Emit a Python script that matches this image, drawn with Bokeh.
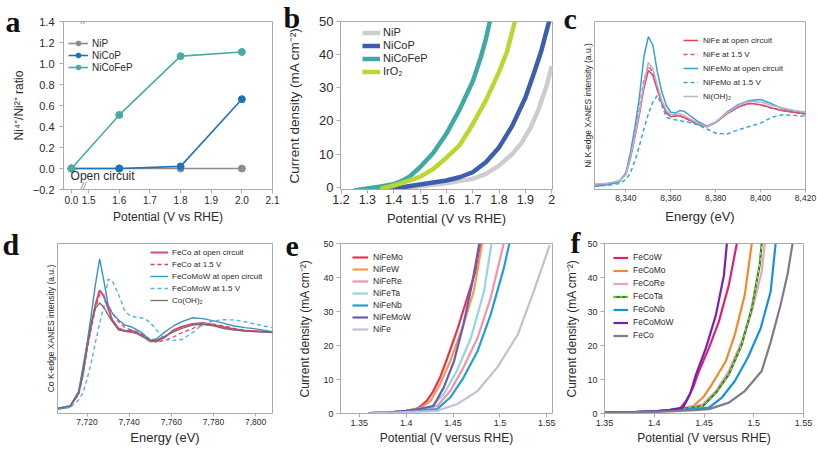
import math
from bokeh.plotting import figure
from bokeh.layouts import row, column
from bokeh.models import Label, Legend, LegendItem, FixedTicker, Range1d, NumeralTickFormatter, Title
from bokeh.embed import file_html
from bokeh.resources import INLINE

FONT = "Liberation Sans"
SERIF = "Liberation Serif"
FRAME = "#ababab"
TXT = "#2b2b2b"

# ---------------- (a) Ni4+/Ni2+ ratio ----------------
a_potential_ticks = [0.0, 1.5, 1.6, 1.7, 1.8, 1.9, 2.0, 2.1]
a_potential_tick_labels = ["0.0", "1.5", "1.6", "1.7", "1.8", "1.9", "2.0", "2.1"]
a_ratio_ticks = [-0.2, 0.0, 0.2, 0.4, 0.6, 0.8, 1.0, 1.2, 1.4]
a_ratio_tick_labels = ["\u22120.2", "0.0", "0.2", "0.4", "0.6", "0.8", "1.0", "1.2", "1.4"]
a_potential = [0.0, 1.6, 1.8, 2.0]
a_NiP = [0.0, 0.0, 0.0, 0.0]
a_NiCoP = [0.0, 0.0, 0.02, 0.66]
a_NiCoFeP = [0.0, 0.51, 1.07, 1.11]

# ---------------- (b) LSV ----------------
b_NiP_V = [1.42, 1.50, 1.60, 1.70, 1.75, 1.80, 1.85, 1.885, 1.92, 1.95, 1.98, 2.00]
b_NiP_J = [-0.5, 0.3, 1.2, 2.5, 4.0, 6.5, 10.0, 13.3, 18.0, 23.5, 30.5, 36.5]
b_NiCoP_V = [1.38, 1.45, 1.50, 1.55, 1.60, 1.65, 1.70, 1.75, 1.80, 1.85, 1.90, 1.935, 1.96, 1.99]
b_NiCoP_J = [-1.0, 0.2, 0.8, 1.4, 2.0, 3.0, 4.5, 7.5, 12.0, 18.5, 27.0, 35.0, 41.0, 50.0]
b_NiCoFeP_V = [1.25, 1.30, 1.35, 1.40, 1.43, 1.46, 1.50, 1.55, 1.60, 1.65, 1.70, 1.73, 1.75, 1.765]
b_NiCoFeP_J = [-1.0, -0.4, 0.2, 0.9, 1.8, 3.2, 6.0, 10.3, 16.1, 23.4, 31.9, 39.0, 44.7, 50.0]
b_IrO2_V = [1.35, 1.40, 1.44, 1.50, 1.55, 1.60, 1.65, 1.70, 1.75, 1.80, 1.83, 1.86]
b_IrO2_J = [-0.5, 0.5, 1.5, 3.1, 5.5, 8.9, 12.6, 19.0, 26.2, 34.8, 40.8, 50.0]

# ---------------- (c) Ni K-edge XANES ----------------
c_energy = [8326, 8332, 8337, 8340, 8342, 8344, 8346, 8348, 8350, 8352, 8354, 8356, 8358, 8360, 8362,
            8364, 8366, 8368, 8372, 8376, 8380, 8385, 8390, 8395, 8400, 8405, 8410, 8415, 8420]
c_NiFe_oc = [.029, .035, .049, .091, .184, .311, .447, .602, .709, .680, .592, .515, .456, .433, .437,
             .437, .427, .414, .388, .373, .398, .450, .491, .513, .505, .485, .470, .460, .450]
c_NiFe_15 = [.029, .035, .050, .095, .195, .330, .480, .650, .735, .700, .600, .520, .462, .435, .438,
             .440, .430, .415, .388, .375, .400, .450, .493, .512, .503, .484, .468, .458, .450]
c_NiFeMo_oc = [.020, .028, .045, .100, .220, .370, .550, .790, .910, .860, .700, .580, .500, .460, .455,
               .470, .465, .445, .405, .378, .400, .460, .505, .530, .535, .510, .480, .468, .460]
c_NiFeMo_15 = [.020, .025, .035, .060, .100, .170, .260, .360, .450, .520, .560, .500, .430, .420, .415,
               .410, .405, .400, .385, .360, .335, .330, .355, .375, .395, .430, .445, .440, .435]
c_NiOH2 = [.031, .037, .050, .090, .190, .320, .460, .630, .757, .720, .620, .530, .470, .445, .447,
           .452, .440, .425, .395, .375, .400, .455, .500, .525, .520, .500, .485, .470, .460]

# ---------------- (d) Co K-edge XANES ----------------
d_energy = [7706, 7712, 7716, 7718, 7720, 7722, 7724, 7726, 7728, 7730, 7732, 7735, 7738, 7741, 7744,
            7747, 7750, 7753, 7757, 7761, 7765, 7770, 7775, 7780, 7785, 7790, 7795, 7800, 7808]
d_FeCo_oc = [.029, .042, .120, .230, .390, .520, .640, .725, .690, .620, .550, .500, .485, .480, .470,
             .450, .425, .425, .450, .490, .510, .527, .532, .520, .508, .495, .487, .484, .478]
d_FeCo_15 = [.029, .046, .110, .220, .370, .500, .620, .700, .690, .640, .590, .540, .505, .490, .480,
             .460, .435, .420, .430, .450, .475, .500, .520, .525, .515, .500, .490, .485, .478]
d_FeCoMoW_oc = [.025, .040, .130, .270, .410, .580, .760, .910, .780, .640, .590, .550, .520, .510, .490,
                .465, .430, .440, .480, .515, .540, .563, .558, .545, .530, .515, .505, .498, .481]
d_FeCoMoW_15 = [.025, .035, .080, .120, .200, .300, .420, .530, .630, .790, .780, .700, .600, .570, .567,
                .560, .535, .490, .435, .430, .435, .475, .525, .545, .552, .550, .540, .525, .505]
d_CoOH2 = [.030, .045, .120, .230, .400, .530, .620, .650, .625, .580, .540, .490, .485, .490, .475,
           .450, .430, .430, .455, .480, .500, .520, .525, .515, .500, .490, .485, .482, .478]

# ---------------- (e) NiFe-based LSV ----------------
e_NiFeMo_V = [1.36, 1.38, 1.40, 1.41, 1.415, 1.422, 1.429, 1.436, 1.444, 1.454, 1.465, 1.476, 1.480]
e_NiFeMo_J = [0.1, 0.3, 0.8, 1.3, 2.0, 3.7, 6.6, 10.5, 16.4, 24.2, 33.9, 43.7, 50.0]
e_NiFeW_V = [1.36, 1.38, 1.40, 1.415, 1.426, 1.436, 1.447, 1.461, 1.472, 1.481]
e_NiFeW_J = [0.1, 0.3, 0.8, 1.6, 3.7, 8.6, 15.4, 26.1, 35.9, 50.0]
e_NiFeRe_V = [1.36, 1.38, 1.40, 1.42, 1.433, 1.447, 1.461, 1.476, 1.490, 1.504]
e_NiFeRe_J = [0.1, 0.3, 0.7, 1.3, 2.2, 6.6, 13.5, 22.2, 33.9, 50.0]
e_NiFeTa_V = [1.36, 1.38, 1.40, 1.415, 1.426, 1.440, 1.454, 1.469, 1.483, 1.491]
e_NiFeTa_J = [0.1, 0.3, 0.7, 1.2, 1.75, 5.65, 12.5, 22.2, 35.9, 50.0]
e_NiFeNb_V = [1.36, 1.38, 1.40, 1.42, 1.433, 1.447, 1.461, 1.476, 1.490, 1.504, 1.510]
e_NiFeNb_J = [0.1, 0.3, 0.6, 1.0, 1.3, 4.7, 10.5, 18.3, 29.0, 42.6, 50.0]
e_NiFeMoW_V = [1.36, 1.38, 1.40, 1.415, 1.429, 1.440, 1.451, 1.461, 1.470, 1.478]
e_NiFeMoW_J = [0.1, 0.3, 0.8, 1.4, 2.2, 7.6, 15.4, 26.1, 37.8, 50.0]
e_NiFe_V = [1.36, 1.38, 1.40, 1.42, 1.433, 1.454, 1.476, 1.497, 1.519, 1.536, 1.553]
e_NiFe_J = [0.05, 0.2, 0.4, 0.6, 0.8, 2.7, 6.6, 13.5, 23.2, 35.9, 49.5]

# ---------------- (f) FeCo-based LSV ----------------
f_FeCoW_V = [1.35, 1.38, 1.40, 1.415, 1.426, 1.432, 1.439, 1.445, 1.455, 1.465, 1.475, 1.483]
f_FeCoW_J = [0.3, 0.4, 0.6, 1.0, 1.5, 3.7, 7.6, 12.5, 19.3, 27.1, 37.8, 50.0]
f_FeCoMo_V = [1.35, 1.38, 1.40, 1.42, 1.439, 1.449, 1.458, 1.472, 1.481, 1.491, 1.498]
f_FeCoMo_J = [0.3, 0.4, 0.6, 1.0, 2.2, 4.7, 8.6, 15.4, 23.2, 34.9, 50.0]
f_FeCoRe_V = [1.35, 1.38, 1.40, 1.42, 1.449, 1.462, 1.475, 1.488, 1.498, 1.508, 1.511]
f_FeCoRe_J = [0.3, 0.4, 0.6, 1.0, 2.7, 6.6, 12.5, 21.2, 30.0, 41.7, 50.0]
f_FeCoTa_V = [1.35, 1.38, 1.40, 1.42, 1.449, 1.462, 1.475, 1.488, 1.498, 1.506, 1.508]
f_FeCoTa_J = [0.3, 0.4, 0.6, 1.0, 2.2, 6.1, 11.5, 20.3, 31.0, 43.7, 50.0]
f_FeCoNb_V = [1.35, 1.38, 1.40, 1.42, 1.44, 1.455, 1.468, 1.481, 1.494, 1.507, 1.517, 1.522]
f_FeCoNb_J = [0.3, 0.4, 0.6, 0.9, 1.3, 1.75, 4.7, 9.55, 16.4, 25.1, 35.9, 50.0]
f_FeCoMoW_V = [1.35, 1.38, 1.40, 1.415, 1.429, 1.436, 1.442, 1.452, 1.462, 1.470, 1.473]
f_FeCoMoW_J = [0.3, 0.4, 0.6, 1.0, 1.75, 5.65, 11.5, 19.3, 29.0, 40.6, 50.0]
f_FeCo_V = [1.35, 1.38, 1.40, 1.42, 1.44, 1.455, 1.475, 1.491, 1.508, 1.517, 1.527, 1.534, 1.539]
f_FeCo_J = [0.3, 0.4, 0.5, 0.7, 1.0, 1.3, 3.2, 6.6, 12.5, 21.0, 32.0, 41.0, 50.0]

LSV_TICKS = [1.35, 1.40, 1.45, 1.50, 1.55]
J_TICKS = [0, 10, 20, 30, 40, 50]


# ---------------- helpers ----------------
def make_panel(w, h, bl, br, bt, bb, xr, yr):
    p = figure(width=w, height=h, x_range=Range1d(*xr), y_range=Range1d(*yr),
               min_border_left=bl, min_border_right=br, min_border_top=bt, min_border_bottom=bb,
               output_backend="svg", toolbar_location=None, tools="")
    p.grid.visible = False
    p.outline_line_color = FRAME
    p.background_fill_color = "white"
    p.border_fill_color = "white"
    for ax in p.axis:
        ax.axis_line_color = FRAME
        ax.major_tick_line_color = FRAME
        ax.minor_tick_line_color = None
        ax.major_tick_in = 0
        ax.major_tick_out = 4
        ax.major_label_text_font = FONT
        ax.major_label_text_color = TXT
        ax.axis_label_text_font = FONT
        ax.axis_label_text_font_style = "normal"
        ax.axis_label_text_color = TXT
    return p, (bl, bt, h - bt - bb)


def set_axis(ax, title, tick_px, title_px, label_standoff, title_standoff):
    ax.axis_label = title
    ax.major_label_text_font_size = f"{tick_px}px"
    ax.axis_label_text_font_size = f"{title_px}px"
    ax.major_label_standoff = label_standoff
    ax.axis_label_standoff = title_standoff


def add_letter(p, g, txt, cx, base_y, fs=30, mode="middle"):
    """Panel letter as the figure title, pulled down beside the frame."""
    bl, bt, fh = g
    asc, desc = 0.891 * fs, 0.216 * fs
    th = asc + desc
    if mode == "middle":
        mid = base_y - (asc - desc) / 2
        h = 2 * (bt - mid)
        s = int(round(h - 2 - th))
    else:  # baseline-anchored at frame top minus standoff/2
        s = int(round(2 * (bt - base_y)))
        if 2 + th + s > bt:
            s = int(math.floor(bt - 2 - th))
    p.title = Title(text=txt, align="left", offset=cx - bl, standoff=s, vertical_align=mode,
                    text_font=SERIF, text_font_style="bold", text_font_size=f"{fs}px",
                    text_color="#111111")
    p.title_location = "above"


def add_legend(p, g, items, size_px, x_off, first_center, pitch, glyph_w, standoff, nudge=0):
    bl, bt, fh = g
    n = len(items)
    height = n * pitch
    top = first_center - pitch / 2 + nudge
    vy = fh - top - height
    leg = Legend(items=items, location=(x_off, vy), padding=0, margin=0, spacing=0,
                 glyph_width=glyph_w, glyph_height=pitch, label_height=pitch,
                 label_standoff=standoff, label_text_font=FONT,
                 label_text_font_size=f"{size_px}px", label_text_color=TXT,
                 border_line_color=None, background_fill_alpha=0)
    p.add_layout(leg)


TOP_H, BOT_H = 228, 225

# ================= panel a =================
OC_POS = 1.444  # where "open circuit" sits on the broken potential axis


def a_pos(v):
    return OC_POS if v == 0.0 else v


pa, ga = make_panel(282, TOP_H, 63, 10, 17, 38, (1.418, 2.1), (-0.2, 1.4))
pa.xaxis.ticker = FixedTicker(ticks=[a_pos(v) for v in a_potential_ticks])
pa.xaxis.major_label_overrides = {a_pos(v): s for v, s in zip(a_potential_ticks, a_potential_tick_labels)}
pa.yaxis.ticker = FixedTicker(ticks=a_ratio_ticks)
pa.yaxis.major_label_overrides = {v: s for v, s in zip(a_ratio_ticks, a_ratio_tick_labels)}
set_axis(pa.xaxis[0], "Potential (V vs RHE)", 10, 12, 2, 3)
set_axis(pa.yaxis[0], "Ni\u2074\u207a/Ni\u00b2\u207a ratio", 11, 12, 5, 4)

a_x = [a_pos(v) for v in a_potential]
a_items = []
for name, ys, col in [("NiP", a_NiP, "#8d8d8d"), ("NiCoP", a_NiCoP, "#1f74b6"),
                      ("NiCoFeP", a_NiCoFeP, "#4aaaa4")]:
    rl = pa.line(a_x, ys, line_color=col, line_width=1.6)
    rs = pa.scatter(a_x, ys, marker="circle", size=7, fill_color=col, line_color=col)
    a_items.append(LegendItem(label=name, renderers=[rl, rs]))
add_legend(pa, ga, a_items, 10, 5, 15, 12, 20, 4, nudge=12)
pa.add_layout(Label(x=OC_POS - 0.003, y=-0.07, text="Open circuit", text_font=FONT,
                    text_font_size="12px", text_color=TXT, text_align="left", text_baseline="middle"))
for yy in (4, ga[2] - 4):
    pa.add_layout(Label(x=1.483, y=yy, y_units="screen", text="//", text_font=FONT,
                        text_font_size="9px", text_color="#777777", text_align="center",
                        text_baseline="middle", text_font_style="italic"))
add_letter(pa, ga, "a", 5, 27)

# ================= panel b =================
pb, gb = make_panel(280, TOP_H, 58, 10, 21, 38, (1.198, 2.003), (-0.7, 50))
pb.xaxis.ticker = FixedTicker(ticks=[1.2, 1.3, 1.4, 1.5, 1.6, 1.7, 1.8, 1.9, 2.0])
pb.yaxis.ticker = FixedTicker(ticks=J_TICKS)
set_axis(pb.xaxis[0], "Potential (V vs RHE)", 12.5, 13, 1, 4)
set_axis(pb.yaxis[0], "Current density (mA cm\u207b\u00b2)", 13, 13.5, 3, 14)
b_items = []
for name, xs, ys, col in [("NiP", b_NiP_V, b_NiP_J, "#cdcdcd"),
                          ("NiCoP", b_NiCoP_V, b_NiCoP_J, "#3b5fad"),
                          ("NiCoFeP", b_NiCoFeP_V, b_NiCoFeP_J, "#40a9a4"),
                          ("IrO\u2082", b_IrO2_V, b_IrO2_J, "#bcd631")]:
    rl = pb.line(xs, ys, line_color=col, line_width=4.5)
    rs = pb.scatter([], [], marker="circle", size=7, fill_color=col, line_color=col)
    b_items.append(LegendItem(label=name, renderers=[rl, rs]))
add_legend(pb, gb, b_items, 11, 22, 12, 13, 18, 3)
add_letter(pb, gb, "b", 1, 27)

# ================= panel c =================
pc, gc = make_panel(255, TOP_H, 32, 12, 20, 36, (8326, 8420), (0, 1))
pc.xaxis.ticker = FixedTicker(ticks=[8340, 8360, 8380, 8400, 8420])
pc.xaxis.formatter = NumeralTickFormatter(format="0,0")
pc.yaxis.ticker = FixedTicker(ticks=[])
pc.yaxis.major_tick_out = 0
pc.xaxis.major_tick_out = 3
set_axis(pc.xaxis[0], "Energy (eV)", 8.5, 13, 2, 5)
set_axis(pc.yaxis[0], "Ni K-edge XANES intensity (a.u.)", 8.5, 8.5, 0, 2)
c_items = []
for name, ys, col, dash in [("NiFe at open circuit", c_NiFe_oc, "#e8405d", "solid"),
                            ("NiFe at 1.5 V", c_NiFe_15, "#d9506c", "4 3"),
                            ("NiFeMo at open circuit", c_NiFeMo_oc, "#38a0d0", "solid"),
                            ("NiFeMo at 1.5 V", c_NiFeMo_15, "#3aa8da", "4 3"),
                            ("Ni(OH)\u2082", c_NiOH2, "#bab3cc", "solid")]:
    r = pc.line(c_energy, ys, line_color=col, line_width=1.5, line_dash=dash)
    c_items.append(LegendItem(label=name, renderers=[r]))
add_legend(pc, gc, c_items, 8, 89, 12, 14, 15, 5, nudge=11)
add_letter(pc, gc, "c", 1, 27)

# ================= panel d =================
pd, gd = make_panel(282, BOT_H, 57, 10, 12, 40, (7706, 7808), (0, 1))
pd.xaxis.ticker = FixedTicker(ticks=[7720, 7740, 7760, 7780, 7800])
pd.xaxis.formatter = NumeralTickFormatter(format="0,0")
pd.yaxis.ticker = FixedTicker(ticks=[])
pd.yaxis.major_tick_out = 0
pd.xaxis.major_tick_out = 3
set_axis(pd.xaxis[0], "Energy (eV)", 8.5, 13, 2, 2)
set_axis(pd.yaxis[0], "Co K-edge XANES intensity (a.u.)", 8.5, 8.5, 0, 2)
d_items = []
for name, ys, col, dash, lw in [("FeCo at open circuit", d_FeCo_oc, "#d9457a", "solid", 2.0),
                                ("FeCo at 1.5 V", d_FeCo_15, "#e2405e", "4 3", 1.3),
                                ("FeCoMoW at open circuit", d_FeCoMoW_oc, "#3a92c4", "solid", 1.4),
                                ("FeCoMoW at 1.5 V", d_FeCoMoW_15, "#5ab2de", "4 3", 1.4),
                                ("Co(OH)\u2082", d_CoOH2, "#6f6f6f", "solid", 1.3)]:
    r = pd.line(d_energy, ys, line_color=col, line_width=lw, line_dash=dash)
    d_items.append(LegendItem(label=name, renderers=[r]))
add_legend(pd, gd, d_items, 8, 93, 12, 12, 18, 4)
add_letter(pd, gd, "d", 2, 29, mode="bottom")

# ================= panel e =================
pe, ge = make_panel(280, BOT_H, 58, 10, 15, 40, (1.33, 1.556), (0, 50))
pe.xaxis.ticker = FixedTicker(ticks=LSV_TICKS)
pe.yaxis.ticker = FixedTicker(ticks=J_TICKS)
set_axis(pe.xaxis[0], "Potential (V versus RHE)", 9, 12, 2, 2)
set_axis(pe.yaxis[0], "Current density (mA cm\u207b\u00b2)", 9, 12, 3, 8)
e_items = []
for name, xs, ys, col in [("NiFeMo", e_NiFeMo_V, e_NiFeMo_J, "#e8334f"),
                          ("NiFeW", e_NiFeW_V, e_NiFeW_J, "#f49a50"),
                          ("NiFeRe", e_NiFeRe_V, e_NiFeRe_J, "#f592a8"),
                          ("NiFeTa", e_NiFeTa_V, e_NiFeTa_J, "#95d4e2"),
                          ("NiFeNb", e_NiFeNb_V, e_NiFeNb_J, "#22a0d0"),
                          ("NiFeMoW", e_NiFeMoW_V, e_NiFeMoW_J, "#6a5cb4"),
                          ("NiFe", e_NiFe_V, e_NiFe_J, "#c2bfd6")]:
    r = pe.line(xs, ys, line_color=col, line_width=2.2)
    e_items.append(LegendItem(label=name, renderers=[r]))
add_legend(pe, ge, e_items, 8.5, 12, 14, 12, 16, 5)
add_letter(pe, ge, "e", 3, 27, mode="bottom")

# ================= panel f =================
pf, gf = make_panel(255, BOT_H, 37, 14, 15, 40, (1.35, 1.55), (0, 50))
pf.xaxis.ticker = FixedTicker(ticks=LSV_TICKS)
pf.yaxis.ticker = FixedTicker(ticks=J_TICKS)
set_axis(pf.xaxis[0], "Potential (V versus RHE)", 9, 12, 2, 2)
set_axis(pf.yaxis[0], "Current density (mA cm\u207b\u00b2)", 9, 12, 3, 5)
f_items = []
for name, xs, ys, col in [("FeCoW", f_FeCoW_V, f_FeCoW_J, "#e0206f"),
                          ("FeCoMo", f_FeCoMo_V, f_FeCoMo_J, "#f08a2e"),
                          ("FeCoRe", f_FeCoRe_V, f_FeCoRe_J, "#f3a0b4"),
                          ("FeCoTa", f_FeCoTa_V, f_FeCoTa_J, "#1c8a2e"),
                          ("FeCoNb", f_FeCoNb_V, f_FeCoNb_J, "#1690e0"),
                          ("FeCoMoW", f_FeCoMoW_V, f_FeCoMoW_J, "#7a1fb5"),
                          ("FeCo", f_FeCo_V, f_FeCo_J, "#7c7c8c")]:
    rl = [pf.line(xs, ys, line_color=col, line_width=2.2)]
    if name == "FeCoTa":
        rl.append(pf.line(xs, ys, line_color="#e8e830", line_width=1, line_dash="3 3"))
    f_items.append(LegendItem(label=name, renderers=rl))
add_legend(pf, gf, f_items, 8.5, 9, 14, 13, 15, 5)
add_letter(pf, gf, "f", 3, 30, mode="bottom")

p = column(row(pa, pb, pc, spacing=0), row(pd, pe, pf, spacing=0), spacing=0)
open("out.html", "w").write(file_html(p, INLINE))
